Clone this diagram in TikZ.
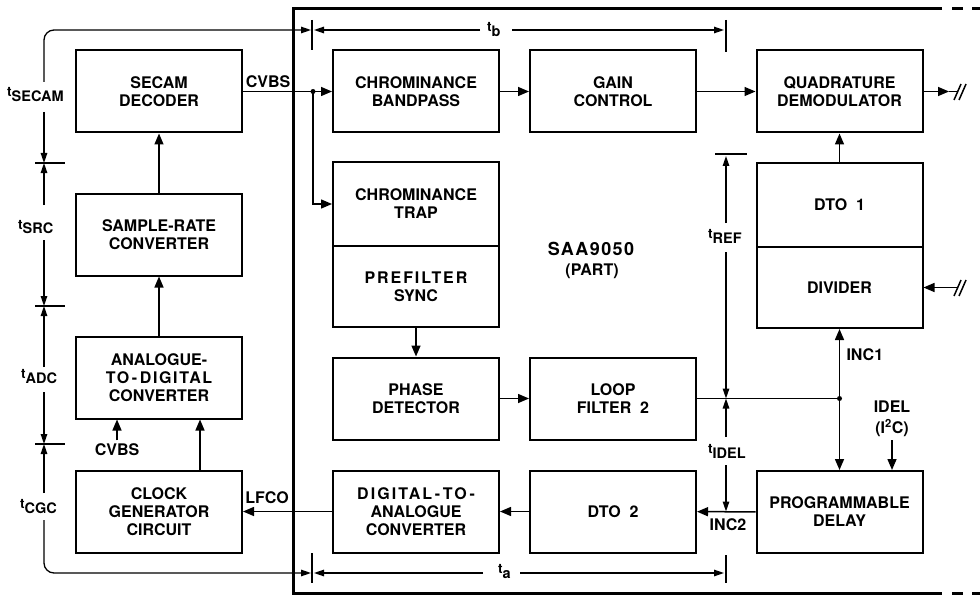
\documentclass[tikz,border=0pt]{standalone}
\usepackage{fontspec}
\setmainfont{TeX Gyre Heros}
\usetikzlibrary{arrows.meta}
\newcommand{\tlab}[1]{{\fontsize{13.5}{13.5}\selectfont t}\raisebox{-5pt}{\fontsize{14.5}{14.5}\selectfont #1}}
\newcommand{\lsp}[2]{{\addfontfeature{LetterSpace=#1}#2}}
\begin{document}
\begin{tikzpicture}[x=1pt,y=-1pt,
 every node/.style={font=\bfseries\fontsize{16}{18}\selectfont},
 blk/.style={draw,line width=2pt,minimum width=166pt,minimum height=82pt,align=center,inner sep=0pt},
 conn/.style={line width=1.5pt,-{Triangle[length=11pt,width=9pt]}},
 both/.style={line width=1.5pt,{Triangle[length=11pt,width=9pt]}-{Triangle[length=11pt,width=9pt]}},
 plain/.style={line width=1.5pt},
 tim/.style={line width=1.3pt,-{Triangle[length=10pt,width=6.5pt]}},
 tick/.style={line width=1.5pt},
 tickb/.style={line width=2.4pt},
 tl/.style={anchor=base west,inner sep=0pt},
 dot/.style={circle,fill,inner sep=0pt,minimum size=5pt},
 frame/.style={line width=3pt}]
\useasboundingbox (0,0) rectangle (980,599);

% IC outline
\draw[frame] (942,9) -- (293,9) -- (293,593) -- (942,593);
\draw[frame] (952,9) -- (963,9) (972,9) -- (980,9);
\draw[frame] (952,593) -- (963,593) (972,593) -- (980,593);

% blocks
\node[blk] (secam) at (159,91.5) {SECAM\\DECODER};
\node[blk] (src) at (159,234.5) {SAMPLE-RATE\\CONVERTER};
\node[blk] (adc) at (159,377.5) {ANALOGUE-\\\lsp{10}{TO\,-\,DIGITAL}\\CONVERTER};
\node[blk] (cgc) at (159,511.5) {CLOCK\\GENERATOR\\CIRCUIT};
\node[blk] (cbp) at (416,91.5) {CHROMINANCE\\BANDPASS};
\node[blk] (gain) at (613,91.5) {GAIN\\CONTROL};
\node[blk,minimum height=84pt] (trap) at (416,204) {CHROMINANCE\\TRAP};
\node[blk,minimum height=81pt] (pre) at (416,286.5) {\lsp{12}{PREFILTER}\\SYNC};
\node[blk] (phase) at (416,398.5) {PHASE\\DETECTOR};
\node[blk] (loop) at (613,398.5) {LOOP\\FILTER~~2};
\node[blk] (dac) at (416,511.5) {\lsp{13}{DIGITAL\,-\,TO\,-}\\ANALOGUE\\CONVERTER};
\node[blk] (dto2) at (613,511.5) {DTO~~2};
\node[blk] (quad) at (839.5,91.5) {QUADRATURE\\DEMODULATOR};
\node[blk,minimum height=84pt] (dto1) at (839.5,205) {DTO~~1};
\node[blk,minimum height=81pt] (div) at (839.5,287.5) {DIVIDER};
\node[blk] (pdel) at (839.5,512) {PROGRAMMABLE\\DELAY};

\node[font=\bfseries\fontsize{18}{20}\selectfont] (saa) at (591,249) {\lsp{8}{SAA9050}};
\node (part) at (592,271) {(PART)};

% labels
\node (cvbs1) at (268,82) {CVBS};
\node (cvbs2) at (117,450) {CVBS};
\node (lfco) at (267,498) {LFCO};
\node[anchor=west] (inc1) at (843,355) {INC1};
\node (inc2) at (728,525) {INC2};
\node[align=center,font=\bfseries\fontsize{16}{21}\selectfont] (idel) at (892,419) {IDEL\\(I\textsuperscript{2}C)};

% connectors
\coordinate (jn) at (313,91.5);
\draw[conn] (secam.east) -- (cbp.west);
\node[dot] (jndot) at (jn) {};
\draw[conn] (jn) |- (trap.west);
\draw[conn] (cbp) -- (gain);
\draw[conn] (gain) -- (quad);
\draw[conn] (src) -- (secam);
\draw[conn] (adc) -- (src);
\draw[conn] ([xshift=41pt]cgc.north) -- ([xshift=41pt]adc.south);
\draw[conn] (cvbs2.north) -- (cvbs2.north |- adc.south);
\draw[conn] (pre) -- (phase);
\draw[conn] (phase) -- (loop);
\draw[conn] (dto2) -- (dac);
\draw[conn] (dac) -- (cgc);
\draw[conn] (dto1) -- (quad);
\draw[both] (div) -- (pdel);
\coordinate (jl) at (839.5,398.5);
\draw[plain] (loop.east) -- (jl);
\node[dot] (jldot) at (jl) {};
\draw[conn] (pdel) -- (dto2);
\draw[conn] (idel.south) -- (idel.south |- pdel.north);

% external ports with break marks
\coordinate (qa) at (949,91.5);
\coordinate (qo) at (957,91.5);
\draw[conn] (quad.east) -- (qa);
\draw[plain] (qa) -- (qo);
\draw[plain] (954,100) -- (961,84) (959,100) -- (966,84);
\coordinate (di) at (957,287.5);
\draw[conn] (di) -- (div.east);
\draw[plain] (954,296) -- (961,280) (959,296) -- (966,280);

% left timing chain
\coordinate (k1) at (44,163);
\coordinate (k2) at (44,306);
\coordinate (k3) at (44,444);
\draw[tick] (35,163) -- (65,163) (35,306) -- (65,306) (35,444) -- (65,444);
\node[tl] (tsecam) at (7,97) {\tlab{SECAM}};
\node[tl] (tsrc) at (18,229) {\tlab{SRC}};
\node[tl] (tadc) at (21,378) {\tlab{ADC}};
\node[tl] (tcgc) at (20,508) {\tlab{CGC}};
\draw[tim,rounded corners=10pt] (44,82) |- (311,30);
\draw[tim] (44,112) -- (k1);
\draw[tim] (44,205) -- (k1);
\draw[tim] (44,240) -- (k2);
\draw[tim] (44,367) -- (k2);
\draw[tim] (44,392) -- (k3);
\draw[tim] (44,493) -- (k3);
\draw[tim,rounded corners=10pt] (44,520) |- (311,573);

% t_b and t_a
\draw[tick] (312,20) -- (312,50);
\draw[tickb] (726,20) -- (726,52);
\node[tl] (tb) at (487,32) {\tlab{b}};
\draw[tim] (480,30) -- (314,30);
\draw[tim] (512,30) -- (724,30);
\draw[tick] (312,553) -- (312,583);
\draw[tickb] (726,555) -- (726,583);
\node[tl] (ta) at (498,573) {\tlab{a}};
\draw[tim] (483,573) -- (314,573);
\draw[tim] (520,573) -- (724,573);

% t_REF and t_IDEL
\coordinate (jr) at (726,398.5);
\draw[tick] (715,154) -- (747,154);
\node[tl] (tref) at (708,238) {\tlab{REF}};
\node[tl] (tidel) at (708,453) {\tlab{IDEL}};
\draw[tim] (726,223) -- (726,156);
\draw[tim] (726,252) -- (jr);
\draw[tim] (726,437) -- (jr);
\draw[tim] (726,465) -- (726,511.5);
\end{tikzpicture}
\end{document}
